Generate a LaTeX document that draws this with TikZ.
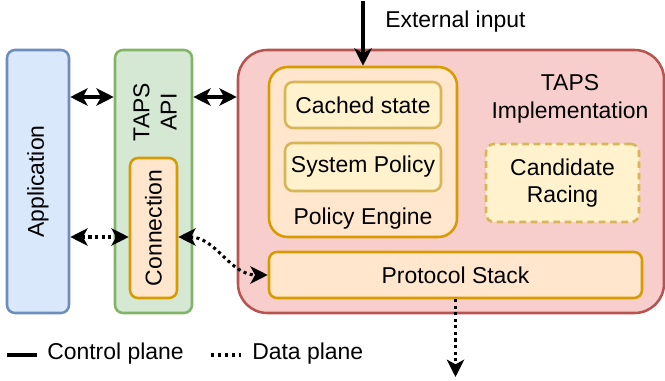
\documentclass[tikz,border=0pt]{standalone}
\usepackage{fontspec}
\setmainfont{Liberation Sans}
\usetikzlibrary{arrows.meta}
\definecolor{appfill}{HTML}{DAE8FC}
\definecolor{appline}{HTML}{6C8EBF}
\definecolor{apifill}{HTML}{D5E8D4}
\definecolor{apiline}{HTML}{82B366}
\definecolor{implfill}{HTML}{F8CECC}
\definecolor{implline}{HTML}{B85450}
\definecolor{orangefill}{HTML}{FFE6CC}
\definecolor{orangeline}{HTML}{D79B00}
\definecolor{yellowfill}{HTML}{FFF2CC}
\definecolor{yellowline}{HTML}{D6B656}

\begin{document}
\begin{tikzpicture}[x=0.75pt, y=-0.75pt,
    every node/.style={font=\fontsize{17.2}{20.6}\selectfont, align=center, inner sep=0pt},
    box/.style={draw, line width=1.9pt, rounded corners=6pt},
    >={Stealth[length=13pt, width=13pt, inset=3.5pt]},
    ctrl/.style={line width=2.3pt},
    data/.style={line width=2.3pt, dash pattern=on 2.3pt off 2.6pt}]
      \useasboundingbox (0,0) rectangle (665,381);
      \coordinate (ctrlrow) at (0,97);
      \coordinate (datarow) at (0,237);

      % Box for the application
      \node[box, draw=appline, fill=appfill, minimum width=46.5pt, minimum height=197.25pt] (app) at (38,181.5) {};
      \node[rotate=90] (apptext) at (app) {Application};

      % Box for the TAPS API with its connection
      \node[box, draw=apiline, fill=apifill, minimum width=57.75pt, minimum height=197.25pt] (api) at (153.5,181.5) {};
      \node[rotate=90] (apitext) at (155,112) {TAPS\\API};
      \node[box, draw=orangeline, fill=orangefill, minimum width=35.25pt, minimum height=105pt] (conn) at (153.5,228) {};
      \node[rotate=90] (conntext) at (conn) {Connection};

      % Box for the TAPS implementation
      \node[box, rounded corners=22pt, draw=implline, fill=implfill, minimum width=319.5pt, minimum height=197.25pt] (impl) at (451,181.5) {};
      \node (impltext) at (570,99) {TAPS\\Implementation};

      % Policy engine
      \node[box, rounded corners=14pt, draw=orangeline, fill=orangefill, minimum width=141pt, minimum height=127.5pt] (engine) at (363,152) {};
      \node (enginetext) at (363,219) {Policy Engine};
      \node[box, draw=yellowline, fill=yellowfill, minimum width=117pt, minimum height=34.5pt] (cached) at (363,105) {Cached state};
      \node[box, draw=yellowline, fill=yellowfill, minimum width=117pt, minimum height=36pt] (syspol) at (363,167) {System Policy};

      % Racing and protocol stack
      \node[box, dash pattern=on 5pt off 3.5pt, draw=yellowline, fill=yellowfill, minimum width=114.75pt, minimum height=58.5pt] (racing) at (562.5,183) {Candidate\\Racing};
      \node[box, draw=orangeline, fill=orangefill, minimum width=279.75pt, minimum height=34.5pt] (stack) at (455.5,275) {Protocol Stack};

      % Control plane
      \coordinate (ext) at (363,1);
      \node[anchor=west] (exttext) at (385,22) {External input};
      \draw[ctrl, ->] (ext) -- (engine.north);
      \draw[ctrl, <->] (app.east |- ctrlrow) -- (api.west |- ctrlrow);
      \draw[ctrl, <->] (api.east |- ctrlrow) -- (impl.west |- ctrlrow);

      % Data plane
      \coordinate (out) at (455.5,377);
      \draw[data, <->] (app.east |- datarow) -- (conn.west |- datarow);
      \draw[data, <->] (conn.east |- datarow) to[out=0, in=180] (stack.west);
      \draw[data, ->] (stack.south) -- (out);

      % Legend
      \coordinate (ctrlA) at (7,355);
      \coordinate (ctrlB) at (37,355);
      \coordinate (dataA) at (211,355);
      \coordinate (dataB) at (241,355);
      \draw[line width=2.3pt] (ctrlA) -- (ctrlB);
      \node[anchor=west] (ctrllabel) at (47,354) {Control plane};
      \draw[line width=2.3pt, dash pattern=on 2.3pt off 3pt] (dataA) -- (dataB);
      \node[anchor=west] (datalabel) at (252,354) {Data plane};
    \end{tikzpicture}
\end{document}
